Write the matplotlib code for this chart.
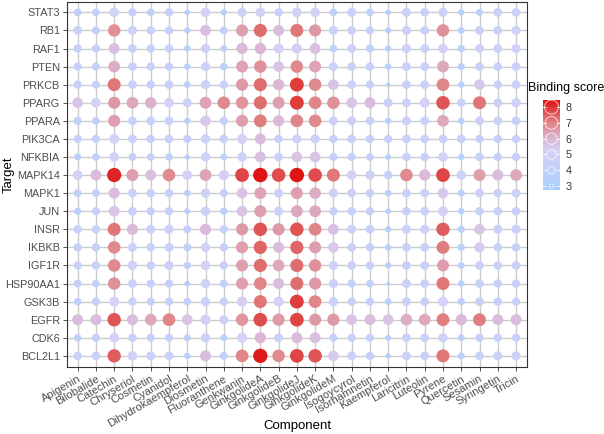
import numpy as np
import matplotlib
matplotlib.use("Agg")
import matplotlib.pyplot as plt
from matplotlib.colors import LinearSegmentedColormap, Normalize

plt.rcParams['font.family'] = ['Liberation Sans', 'DejaVu Sans']

components = ["Apigenin", "Bilobalide", "Catechin", "Chryseriol", "Cosmetin", "Cyanidol",
              "Dihydrokaempferol", "Diosmetin", "Fluoranthene", "Genkwanin", "GinkgolideA",
              "GinkgolideB", "GinkgolideJ", "GinkgolideK", "GinkgolideM", "Isogoycyrol",
              "Isorhamnetin", "Kaempferol", "Laricitrin", "Luteolin", "Pyrene", "Quercetin",
              "Sesamin", "Syringetin", "Tricin"]

# targets listed bottom to top
targets = ["BCL2L1", "CDK6", "EGFR", "GSK3B", "HSP90AA1", "IGF1R", "IKBKB", "INSR", "JUN",
           "MAPK1", "MAPK14", "NFKBIA", "PIK3CA", "PPARA", "PPARG", "PRKCB", "PTEN", "RAF1",
           "RB1", "STAT3"]

# binding scores, one row per target, one column per component
scores = {
    "BCL2L1":   [4.4, 4.5, 7.5, 5.0, 4.7, 4.5, 3.6, 5.8, 4.2, 7.0, 8.3, 6.9, 7.8, 7.6, 5.5, 4.6, 4.3, 3.2, 4.5, 4.6, 7.2, 3.8, 4.5, 4.6, 4.7],
    "CDK6":     [4.0, 4.3, 5.0, 4.4, 4.2, 4.2, 3.7, 4.8, 3.8, 5.2, 6.0, 4.6, 5.8, 5.7, 4.2, 4.3, 4.2, 3.4, 4.5, 4.4, 4.8, 3.7, 4.3, 4.3, 4.3],
    "EGFR":     [5.8, 5.8, 7.6, 5.8, 6.3, 7.0, 5.6, 5.3, 4.7, 6.7, 7.7, 6.6, 7.8, 6.6, 6.6, 5.6, 5.8, 5.6, 6.2, 6.3, 7.1, 5.9, 7.1, 5.8, 5.8],
    "GSK3B":    [4.0, 4.3, 5.2, 4.4, 4.2, 4.3, 4.0, 4.7, 4.3, 5.3, 7.2, 5.2, 7.9, 7.0, 4.7, 4.4, 4.2, 3.7, 4.5, 4.5, 5.2, 3.9, 4.5, 4.3, 4.3],
    "HSP90AA1": [4.2, 4.0, 6.8, 4.5, 4.3, 4.2, 3.3, 4.8, 4.2, 6.5, 7.0, 5.8, 7.3, 6.6, 4.7, 4.3, 4.0, 2.9, 4.5, 4.5, 7.2, 3.6, 4.5, 4.3, 4.3],
    "IGF1R":    [4.3, 4.4, 6.9, 5.0, 4.5, 4.7, 3.9, 5.0, 4.3, 6.5, 7.3, 6.3, 7.3, 6.8, 4.7, 4.5, 4.3, 3.5, 4.5, 4.5, 6.5, 3.7, 4.5, 4.4, 4.5],
    "IKBKB":    [4.3, 4.4, 6.9, 4.6, 4.4, 4.6, 4.2, 4.8, 4.3, 6.5, 7.4, 5.8, 7.4, 6.5, 5.5, 4.5, 4.3, 3.6, 4.5, 4.5, 7.1, 3.9, 5.4, 4.4, 4.5],
    "INSR":     [4.4, 4.4, 7.2, 5.9, 4.6, 4.8, 4.2, 5.9, 4.3, 6.6, 7.6, 6.6, 7.6, 7.0, 5.7, 4.6, 4.4, 3.5, 4.6, 4.7, 7.5, 3.9, 5.6, 4.6, 4.7],
    "JUN":      [3.8, 4.2, 5.6, 4.5, 4.3, 4.3, 3.4, 4.8, 3.9, 5.6, 6.5, 4.7, 6.3, 6.3, 4.3, 4.4, 4.2, 3.3, 4.5, 4.5, 5.2, 3.6, 4.4, 4.4, 4.4],
    "MAPK1":    [4.2, 4.2, 5.8, 4.5, 4.4, 4.4, 3.6, 4.8, 4.2, 5.6, 6.4, 4.6, 6.5, 6.2, 4.7, 4.5, 4.3, 3.6, 4.5, 4.5, 5.5, 3.8, 4.5, 4.4, 4.5],
    "MAPK14":   [5.1, 5.8, 8.2, 6.5, 5.7, 6.9, 5.0, 6.4, 5.3, 7.8, 8.4, 7.7, 8.4, 7.7, 7.2, 5.0, 4.8, 4.4, 6.9, 5.9, 7.8, 4.9, 6.5, 5.8, 6.3],
    "NFKBIA":   [3.8, 4.0, 5.0, 4.2, 4.0, 4.0, 3.2, 4.8, 3.7, 4.8, 5.7, 4.5, 5.6, 5.6, 4.2, 4.3, 4.0, 3.3, 4.4, 4.4, 5.0, 3.6, 4.4, 4.3, 4.3],
    "PIK3CA":   [4.3, 4.3, 5.1, 4.5, 4.3, 4.5, 4.2, 4.8, 4.5, 5.2, 5.8, 4.3, 4.7, 4.7, 4.3, 4.5, 4.3, 4.3, 4.5, 4.4, 4.5, 4.5, 4.3, 4.3, 4.3],
    "PPARA":    [4.2, 4.0, 6.5, 4.5, 4.5, 4.5, 3.5, 5.5, 4.3, 6.5, 7.1, 5.9, 7.0, 6.9, 4.6, 4.5, 4.3, 3.5, 4.6, 4.5, 6.3, 3.6, 4.5, 4.4, 4.5],
    "PPARG":    [5.6, 5.0, 6.6, 6.3, 6.1, 5.0, 4.6, 6.4, 6.9, 6.7, 7.3, 6.5, 7.9, 7.0, 6.8, 5.6, 5.8, 4.6, 4.6, 5.1, 7.6, 4.3, 7.2, 4.5, 4.8],
    "PRKCB":    [4.3, 4.2, 7.2, 4.5, 4.3, 4.5, 3.7, 4.8, 4.3, 6.6, 7.3, 6.0, 7.9, 6.9, 5.6, 4.5, 4.2, 3.0, 4.5, 4.5, 7.0, 3.6, 5.5, 4.3, 4.5],
    "PTEN":     [4.3, 4.2, 6.2, 4.5, 4.3, 4.3, 3.6, 4.7, 4.0, 6.4, 6.8, 5.6, 6.9, 6.4, 4.6, 4.5, 4.3, 3.6, 4.5, 4.5, 6.3, 3.8, 4.5, 4.3, 4.5],
    "RAF1":     [4.3, 4.2, 5.7, 4.5, 4.3, 4.3, 3.6, 4.7, 3.6, 5.9, 6.0, 5.2, 5.3, 5.7, 4.0, 4.5, 4.2, 3.5, 4.7, 4.5, 5.0, 3.9, 4.5, 4.5, 4.7],
    "RB1":      [4.5, 4.2, 6.8, 4.7, 4.5, 4.3, 3.5, 5.7, 4.2, 6.5, 7.3, 5.8, 7.2, 6.6, 4.7, 4.5, 4.2, 3.5, 4.7, 4.5, 6.8, 3.7, 4.5, 4.5, 4.7],
    "STAT3":    [4.0, 4.0, 5.0, 4.3, 4.0, 4.3, 3.3, 5.0, 3.5, 4.7, 5.0, 4.3, 5.0, 5.0, 4.0, 4.7, 4.0, 3.3, 4.7, 4.5, 4.7, 3.5, 3.7, 4.5, 4.5],
}

vmin, vmax = 2.75, 8.45
cmap = LinearSegmentedColormap.from_list(
    "bind",
    [(0.0, "#a9d1fa"), ((4.0 - vmin) / (vmax - vmin), "#c1d0fa"),
     ((5.2 - vmin) / (vmax - vmin), "#d5d2f8"), ((6.0 - vmin) / (vmax - vmin), "#dcb6d4"),
     ((7.0 - vmin) / (vmax - vmin), "#e08688"), (1.0, "#de1010")])
norm = Normalize(vmin, vmax)


def dot_size(v):
    # diameter in pixels (dpi=100) -> marker area in points^2
    d = 1.5 + 13.0 * np.sqrt(np.clip((np.asarray(v) - vmin) / (vmax - vmin), 0, 1))
    return (d * 0.72) ** 2


xs, ys, vals = [], [], []
for j, t in enumerate(targets):
    for i, v in enumerate(scores[t]):
        xs.append(i)
        ys.append(j)
        vals.append(v)
vals = np.array(vals)

fig = plt.figure(figsize=(6.04, 4.34), dpi=100)
ax = fig.add_axes([66.7 / 604, 1 - 366.7 / 434, (527 - 66.7) / 604, (366.7 - 1.5) / 434])

for i in range(len(components)):
    ax.axvline(i, color="#cccccc", lw=1.0, zorder=0)
for j in range(len(targets)):
    ax.axhline(j, color="#cccccc", lw=1.0, zorder=0)

ax.scatter(xs, ys, s=dot_size(vals), c=cmap(norm(vals)), linewidths=0, zorder=2)

ax.set_xlim(-0.6, len(components) - 0.4)
ax.set_ylim(-0.6, len(targets) - 0.4)
ax.set_xticks(range(len(components)))
ax.set_xticklabels(components, rotation=30, ha="right", va="top", rotation_mode="anchor",
                   fontsize=8, color="#4d4d4d")
ax.set_yticks(range(len(targets)))
ax.set_yticklabels(targets, fontsize=7.8, color="#4d4d4d")
ax.tick_params(length=3, width=0.6, color="#333333", pad=2)
for sp in ax.spines.values():
    sp.set_color("#333333")
    sp.set_linewidth(0.8)

# axis titles placed in figure pixels
fig.text(297 / 604, 1 - 426 / 434, "Component", fontsize=9.5, ha="center", va="center")
fig.text(9 / 604, 1 - 175 / 434, "Target", fontsize=9.5, ha="center", va="center",
         rotation=90)

# legend: colour bar with size circles
cax = fig.add_axes([543 / 604, 1 - 190 / 434, 17 / 604, 90 / 434])
grad = np.linspace(vmin, vmax, 256).reshape(-1, 1)
cax.imshow(grad, aspect="auto", cmap=cmap, norm=norm, origin="lower",
           extent=[0, 1, vmin, vmax])
leg_ticks = [3, 4, 5, 6, 7, 8]
cax.scatter([0.5] * len(leg_ticks), leg_ticks, s=dot_size(leg_ticks), facecolors="none",
            edgecolors="white", linewidths=0.6, alpha=0.8)
for tv in leg_ticks:
    cax.plot([0, 0.2], [tv, tv], color="white", lw=0.6)
    cax.plot([0.8, 1], [tv, tv], color="white", lw=0.6)
cax.set_xlim(0, 1)
cax.set_ylim(vmin, vmax)
cax.set_xticks([])
cax.yaxis.tick_right()
cax.set_yticks(leg_ticks)
cax.set_yticklabels([str(t) for t in leg_ticks], fontsize=7.8, color="#333333")
cax.tick_params(length=0, pad=4)
for sp in cax.spines.values():
    sp.set_visible(False)
fig.text(528 / 604, 1 - 88 / 434, "Binding score", fontsize=9, va="center", ha="left")

fig.savefig("out.png", dpi=100)
